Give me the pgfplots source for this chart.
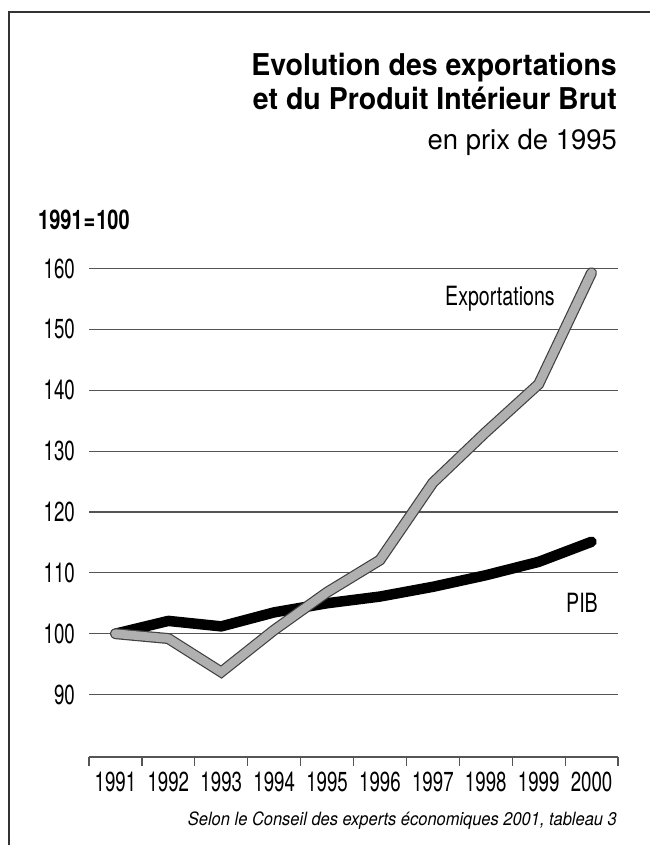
\documentclass[border=0pt]{standalone}
\usepackage{fontspec}
\setmainfont{TeX Gyre Heros}[FakeStretch=0.74]
\newfontfamily\titlefont{TeX Gyre Heros}[FakeStretch=0.95]
\newfontfamily\subfont{TeX Gyre Heros}[FakeStretch=0.98]
\newfontfamily\tickfont{TeX Gyre Heros}[FakeStretch=0.68]
\newfontfamily\srcfont{TeX Gyre Heros}[FakeStretch=0.9]
\usepackage{pgfplots}
\pgfplotsset{compat=1.18}
\definecolor{expgray}{RGB}{176,176,176}
\definecolor{gridgray}{RGB}{85,85,85}
\begin{document}
\begin{tikzpicture}[x=1pt,y=1pt]
\path[use as bounding box] (0,0) rectangle (650,845);
\draw[line width=1.5pt, black!80] (9,0) -- (9,833) -- (650,833);
\node[anchor=base east, inner sep=0pt, font=\titlefont\bfseries\fontsize{30}{34}\selectfont] at (617,769) {Evolution des exportations};
\node[anchor=base east, inner sep=0pt, font=\titlefont\bfseries\fontsize{30}{34}\selectfont] at (617,735) {et du Produit Intérieur Brut};
\node[anchor=base east, inner sep=0pt, font=\subfont\fontsize{28}{32}\selectfont] at (617,695) {en prix de 1995};
\node[anchor=base west, inner sep=0pt, font=\bfseries\fontsize{27}{30}\selectfont] at (38,615) {1991\kern1pt=\kern1pt100};
\begin{axis}[
  at={(89pt,88pt)}, anchor=south west,
  scale only axis, width=529pt, height=488.5pt,
  xmin=0.5, xmax=10.5, ymin=79.74, ymax=160,
  clip=false,
  axis x line*=bottom, axis y line*=left,
  y axis line style={draw=none},
  x axis line style={line width=1.2pt, gridgray, -},
  xtick={1,2,3,4,5,6,7,8,9,10},
  xticklabels={1991,1992,1993,1994,1995,1996,1997,1998,1999,2000},
  major tick length=0pt,
  minor xtick={0.5,1.5,...,10.5},
  minor x tick style={line width=1.2pt, gridgray},
  minor tick length=9pt,
  xtick align=outside,
  ytick={90,100,...,160},
  ymajorgrids, grid style={line width=1.1pt, gridgray},
  /pgf/number format/assume math mode=true,
  yticklabel style={anchor=east, inner sep=0pt, xshift=-14pt, font=\tickfont\fontsize{27.5}{27}\selectfont},
  xticklabel style={anchor=north, inner sep=0pt, yshift=-15pt, font=\tickfont\fontsize{27.5}{27}\selectfont},
]
\addplot[black, line width=10.5pt, line cap=round, line join=round] coordinates {
(1,100)(2,102.1)(3,101.2)(4,103.5)(5,105.0)(6,106.1)(7,107.7)(8,109.6)(9,111.8)(10,115.1)};
\addplot[black!75, line width=11pt, line cap=round, line join=miter] coordinates {
(1,100)(2,99.2)(3,93.7)(4,100.6)(5,106.8)(6,112.1)(7,124.8)(8,133.1)(9,141)(10,159.3)};
\addplot[expgray, line width=8.6pt, line cap=round, line join=miter] coordinates {
(1,100)(2,99.2)(3,93.7)(4,100.6)(5,106.8)(6,112.1)(7,124.8)(8,133.1)(9,141)(10,159.3)};
\end{axis}
\node[anchor=base west, inner sep=0pt, font=\fontsize{26.5}{30}\selectfont] at (445,539) {Exportations};
\node[anchor=base west, inner sep=0pt, font=\fontsize{26.5}{30}\selectfont] at (566,232) {PIB};
\node[anchor=base east, inner sep=0pt, font=\srcfont\itshape\fontsize{18.3}{22}\selectfont] at (617,19) {Selon le Conseil des experts économiques 2001, tableau 3};
\end{tikzpicture}
\end{document}
